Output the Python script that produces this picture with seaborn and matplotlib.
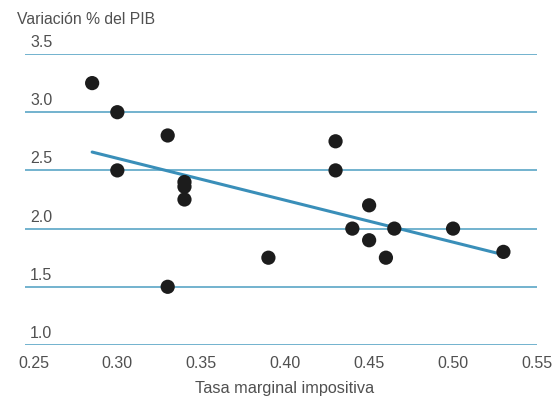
import matplotlib
matplotlib.use("Agg")
import matplotlib.pyplot as plt
import seaborn as sns
import pandas as pd

tasa = [0.285, 0.30, 0.30, 0.33, 0.34, 0.34, 0.34, 0.33, 0.39,
        0.43, 0.43, 0.45, 0.44, 0.45, 0.465, 0.46, 0.50, 0.53]
pib = [3.25, 3.0, 2.5, 2.8, 2.4, 2.36, 2.25, 1.5, 1.75,
       2.75, 2.5, 2.2, 2.0, 1.9, 2.0, 1.75, 2.0, 1.8]
x_ticks = [0.25, 0.30, 0.35, 0.40, 0.45, 0.50, 0.55]
y_ticks = [1.0, 1.5, 2.0, 2.5, 3.0, 3.5]

df = pd.DataFrame({"tasa": tasa, "pib": pib})

sns.set_theme(style="white")
plt.rcParams['font.family'] = ['Liberation Sans', 'DejaVu Sans']

text_color = "#505050"

fig = plt.figure(figsize=(5.53, 3.98), dpi=100)
ax = fig.add_axes([25/553, 53/398, (537-25)/553, (345-54)/398])

grid_color = "#5aa6c6"
for yv in y_ticks:
    ax.axhline(yv, color=grid_color, lw=1.2, zorder=1)

sns.regplot(data=df, x="tasa", y="pib", ci=None, ax=ax,
            scatter_kws=dict(s=105, color="#1c1c1c", edgecolor="none", alpha=1, zorder=3),
            line_kws=dict(color="#3a8fb9", lw=2.2, zorder=2))

ax.set_xlim(0.245, 0.55)
ax.set_ylim(1.0, 3.5)
for s in ax.spines.values():
    s.set_visible(False)

ax.set_xticks(x_ticks)
ax.set_xticklabels([f"{v:.2f}" for v in x_ticks], color=text_color, fontsize=11.5)
ax.tick_params(axis="x", length=0, pad=8)
ax.set_yticks([])
ax.set_xlabel("")
ax.set_ylabel("")

for yv in y_ticks:
    ax.text(0.248, yv + 0.035, f"{yv:.1f}", color=text_color, fontsize=11.5,
            ha="left", va="bottom", clip_on=False)

fig.text(17/553, 1 - 20/398, "Variación % del PIB", color=text_color,
         fontsize=11.3, ha="left", va="center")
fig.text(285/553, 1 - 393/398, "Tasa marginal impositiva", color=text_color,
         fontsize=11.7, ha="center", va="baseline")

fig.savefig("out.png", dpi=100)
